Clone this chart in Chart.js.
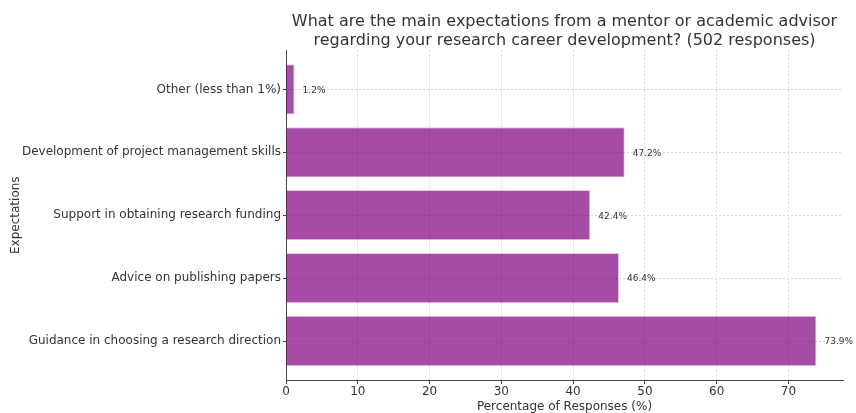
<!DOCTYPE html>
<html>
<head>
<meta charset="utf-8">
<script src="https://cdn.jsdelivr.net/npm/chart.js@4"></script>
<style>
  html, body { margin: 0; padding: 0; background: #fff; }
  #wrap { width: 856px; height: 413px; }
</style>
</head>
<body>
<div id="wrap"><canvas id="expectationsChart" width="856" height="413"></canvas></div>
<script>
// bottom to top, as drawn
const categories = [
    'Guidance in choosing a research direction',
    'Advice on publishing papers',
    'Support in obtaining research funding',
    'Development of project management skills',
    'Other (less than 1%)'
];
const percentages = [73.9, 46.4, 42.4, 47.2, 1.2];
const xTicks = [0, 10, 20, 30, 40, 50, 60, 70];

const FONT = "'DejaVu Sans', sans-serif";

// value labels to the right of each bar
const valueLabels = {
    id: 'valueLabels',
    afterDatasetsDraw(chart) {
        const ctx = chart.ctx;
        const meta = chart.getDatasetMeta(0);
        ctx.save();
        ctx.font = '9px ' + FONT;
        ctx.fillStyle = '#333';
        ctx.textAlign = 'left';
        ctx.textBaseline = 'middle';
        meta.data.forEach((bar, i) => {
            ctx.fillText(percentages[i].toFixed(1) + '%', bar.x + 8, bar.y + 1);
        });
        ctx.restore();
    }
};

function initializeChart() {
    const ctx = document.getElementById('expectationsChart').getContext('2d');
    new Chart(ctx, {
        type: 'bar',
        data: {
            datasets: [{
                data: percentages.map((v, i) => ({ x: v, y: i })),
                backgroundColor: 'rgba(128, 0, 128, 0.7)',
                borderColor: 'rgba(128, 0, 128, 0.2)',
                borderWidth: 1,
                barPercentage: 0.8,
                categoryPercentage: 1.0
            }]
        },
        options: {
            indexAxis: 'y',
            responsive: false,
            animation: false,
            layout: { padding: { left: 0, right: 13, top: 0, bottom: 0 } },
            plugins: {
                legend: { display: false },
                tooltip: { enabled: false },
                title: {
                    display: true,
                    fullSize: false,
                    text: ['What are the main expectations from a mentor or academic advisor',
                           'regarding your research career development? (502 responses)'],
                    color: '#333',
                    font: { family: FONT, size: 16, weight: 'normal', lineHeight: 1.2 },
                    padding: { top: 12, bottom: 0 }
                }
            },
            scales: {
                x: {
                    type: 'linear',
                    min: 0,
                    max: 77.6,
                    afterBuildTicks: s => { s.ticks = xTicks.map(v => ({ value: v })); },
                    afterFit: s => { s.height = 33; },
                    ticks: {
                        color: '#333',
                        font: { family: FONT, size: 12 },
                        padding: 1
                    },
                    grid: {
                        color: '#d6d6d6',
                        tickLength: 4,
                        tickColor: '#444',
                        tickBorderDash: []
                    },
                    border: { display: true, color: '#444', width: 1, dash: [2, 2] },
                    title: {
                        display: true,
                        text: 'Percentage of Responses (%)',
                        color: '#333',
                        font: { family: FONT, size: 12 },
                        padding: { top: 0, bottom: -1 }
                    }
                },
                y: {
                    type: 'linear',
                    offset: false,
                    min: -0.62,
                    max: 4.62,
                    afterBuildTicks: s => { s.ticks = categories.map((c, i) => ({ value: i })); },
                    afterFit: s => { s.width = 286; },
                    ticks: {
                        color: '#333',
                        font: { family: FONT, size: 12 },
                        padding: 2,
                        callback: v => categories[v] ?? ''
                    },
                    grid: {
                        offset: false,
                        color: '#d6d6d6',
                        tickLength: 3,
                        tickColor: '#444',
                        tickBorderDash: []
                    },
                    border: { display: true, color: '#444', width: 1, dash: [2, 2] },
                    title: {
                        display: true,
                        text: 'Expectations',
                        color: '#333',
                        font: { family: FONT, size: 12 },
                        padding: { top: 9, bottom: 0 }
                    }
                }
            }
        },
        plugins: [valueLabels]
    });
}

initializeChart();
</script>
</body>
</html>
